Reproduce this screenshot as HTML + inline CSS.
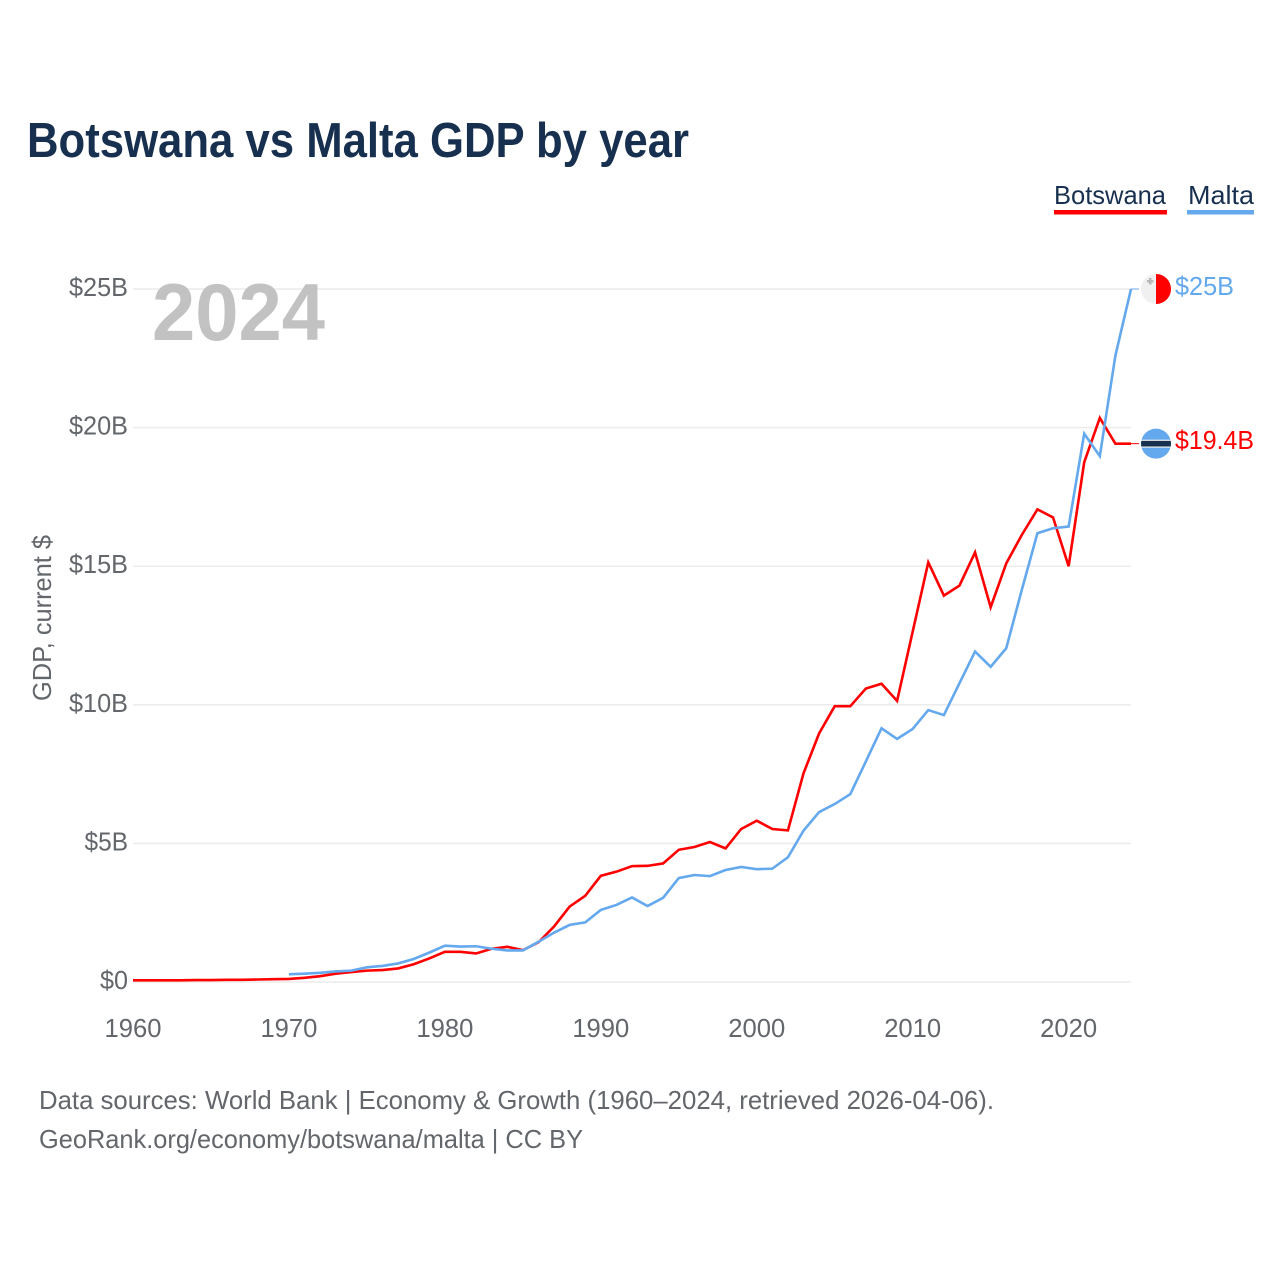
<!DOCTYPE html>
<html lang="en">
<head>
<meta charset="utf-8">
<title>Botswana vs Malta GDP by year</title>
<style>
html,body{margin:0;padding:0;background:#fff;}
svg{display:block;font-family:"Liberation Sans",sans-serif;}
</style>
</head>
<body>
<svg id="chart" width="1280" height="1280" viewBox="0 0 1280 1280" xmlns="http://www.w3.org/2000/svg">
  <rect x="0" y="0" width="1280" height="1280" fill="#ffffff"/>
  <text x="27" y="157" font-size="49" font-weight="700" fill="#18304f" textLength="662" lengthAdjust="spacingAndGlyphs">Botswana vs Malta GDP by year</text>

  <g>
    <g>
      <text x="1054" y="204" font-size="26" fill="#18304f" textLength="112" lengthAdjust="spacingAndGlyphs">Botswana</text>
      <rect x="1054" y="210" width="113" height="4.5" fill="#ff0000"/>
    </g>
    <g>
      <text x="1188" y="204" font-size="26" fill="#18304f" textLength="66" lengthAdjust="spacingAndGlyphs">Malta</text>
      <rect x="1187" y="210" width="67" height="4.5" fill="#64a8ee"/>
    </g>
  </g>

  <g id="grid"></g>
  <g id="yaxis"></g>
  <g id="xaxis"></g>

  <text transform="translate(51,701) rotate(-90)" font-size="26" fill="#63666b" textLength="166" lengthAdjust="spacingAndGlyphs">GDP, current $</text>

  <text x="152" y="340" font-size="81" font-weight="700" fill="#c2c2c2" textLength="173" lengthAdjust="spacingAndGlyphs">2024</text>

  <g id="series"></g>
  <g id="endmarks"></g>

  <g>
    <text x="39" y="1109" font-size="26" fill="#63666b" textLength="955" lengthAdjust="spacingAndGlyphs">Data sources: World Bank | Economy &amp; Growth (1960–2024, retrieved 2026-04-06).</text>
    <text x="39" y="1148" font-size="26" fill="#63666b" textLength="544" lengthAdjust="spacingAndGlyphs">GeoRank.org/economy/botswana/malta | CC BY</text>
  </g>
</svg>
<script>
const years = [1960,1961,1962,1963,1964,1965,1966,1967,1968,1969,1970,1971,1972,1973,1974,1975,1976,1977,1978,1979,1980,1981,1982,1983,1984,1985,1986,1987,1988,1989,1990,1991,1992,1993,1994,1995,1996,1997,1998,1999,2000,2001,2002,2003,2004,2005,2006,2007,2008,2009,2010,2011,2012,2013,2014,2015,2016,2017,2018,2019,2020,2021,2022,2023,2024];
const botswana = [0.06,0.06,0.06,0.06,0.07,0.07,0.08,0.08,0.09,0.10,0.11,0.15,0.21,0.30,0.36,0.41,0.43,0.49,0.64,0.85,1.09,1.09,1.03,1.20,1.27,1.15,1.43,2.00,2.72,3.11,3.83,3.98,4.18,4.19,4.28,4.77,4.87,5.05,4.82,5.52,5.82,5.52,5.47,7.53,8.97,9.95,9.95,10.59,10.76,10.14,12.64,15.14,13.94,14.30,15.50,13.52,15.10,16.13,17.05,16.76,15.00,18.75,20.35,19.42,19.42];
const malta = [null,null,null,null,null,null,null,null,null,null,0.28,0.30,0.33,0.38,0.41,0.53,0.58,0.67,0.83,1.06,1.31,1.28,1.29,1.20,1.14,1.14,1.45,1.78,2.06,2.15,2.60,2.78,3.05,2.74,3.04,3.75,3.86,3.82,4.04,4.15,4.07,4.09,4.50,5.46,6.13,6.42,6.78,7.96,9.15,8.77,9.13,9.81,9.63,10.78,11.92,11.37,12.04,14.15,16.19,16.37,16.43,19.78,18.97,22.60,25.00];
const yTicks = [0,5,10,15,20,25];
const yTickLabels = ["$0","$5B","$10B","$15B","$20B","$25B"];
const xTicks = [1960,1970,1980,1990,2000,2010,2020];
const endLabels = ["$19.4B","$25B"];

const NS = "http://www.w3.org/2000/svg";
const xOf = function (year) { return 133 + (year - 1960) * (1131 - 133) / (2024 - 1960); };
const yOf = function (v) { return 982 - v * (982 - 289) / 25; };

function make(tag, parent, attrs, text) {
  const el = document.createElementNS(NS, tag);
  for (const k in attrs) el.setAttribute(k, attrs[k]);
  if (text !== undefined) el.textContent = text;
  parent.appendChild(el);
  return el;
}

const gridG = document.getElementById("grid");
const yG = document.getElementById("yaxis");
yTicks.forEach(function (t, i) {
  const line = make("line", gridG, {x1: 133, x2: 1131, y1: yOf(t), y2: yOf(t), stroke: "#ebebeb", "stroke-width": 1.5});
  
  
  const label = make("text", yG, {x: 128, y: yOf(t) + 7, "text-anchor": "end", "font-size": 26, fill: "#63666b", textLength: yTickLabels[i].length * 15.5 - 3, lengthAdjust: "spacingAndGlyphs"}, yTickLabels[i]);
  
  
});

const xG = document.getElementById("xaxis");
xTicks.forEach(function (t) {
  const label = make("text", xG, {x: xOf(t), y: 1037, "text-anchor": "middle", "font-size": 26, fill: "#63666b", textLength: 57, lengthAdjust: "spacingAndGlyphs"}, String(t));
  
  
});

function linePath(values) {
  let d = "";
  values.forEach(function (v, i) {
    if (v === null) return;
    d += (d === "" ? "M" : "L") + xOf(years[i]).toFixed(2) + " " + yOf(v).toFixed(2);
  });
  return d;
}

const seriesG = document.getElementById("series");
const lineB = make("path", seriesG, {d: linePath(botswana), fill: "none", stroke: "#ff0000", "stroke-width": 2.6, "stroke-linejoin": "miter"});


const lineM = make("path", seriesG, {d: linePath(malta), fill: "none", stroke: "#64a8ee", "stroke-width": 2.6, "stroke-linejoin": "miter"});



const endG = document.getElementById("endmarks");
const xEnd = xOf(years[years.length - 1]);
const yB = yOf(botswana[botswana.length - 1]);
const yM = yOf(malta[malta.length - 1]);

const connB = make("line", endG, {x1: xEnd, x2: xEnd + 8, y1: yB, y2: yB, stroke: "#ff0000", "stroke-width": 1});


const connM = make("line", endG, {x1: xEnd, x2: xEnd + 8, y1: yM, y2: yM, stroke: "#64a8ee", "stroke-width": 1});



const cx = 1156;

const flagM = make("g", endG, {});


make("circle", flagM, {cx: cx, cy: yM, r: 15, fill: "#f0f0f0"});
make("path", flagM, {d: "M" + cx + " " + (yM - 15) + "A15 15 0 0 1 " + cx + " " + (yM + 15) + "Z", fill: "#ff0000"});
make("path", flagM, {d: "M" + (cx - 7) + " " + (yM - 11) + "h2.5v2h2v2.5h-2v2h-2.5v-2h-2v-2.5h2z", fill: "#b8b8b8"});

const flagB = make("g", endG, {});


const flagBY = yB;
const clip = make("clipPath", flagB, {id: "clipB"});
make("circle", clip, {cx: cx, cy: flagBY, r: 15});
make("circle", flagB, {cx: cx, cy: flagBY, r: 15, fill: "#64a8ee"});
make("rect", flagB, {x: cx - 15, y: flagBY - 4, width: 30, height: 8, fill: "#f0f0f0", "clip-path": "url(#clipB)"});
make("rect", flagB, {x: cx - 15, y: flagBY - 2.8, width: 30, height: 5.6, fill: "#18304f", "clip-path": "url(#clipB)"});

const valB = make("text", endG, {x: 1175, y: 449, "font-size": 26, fill: "#ff0000", textLength: 79, lengthAdjust: "spacingAndGlyphs"}, endLabels[0]);


const valM = make("text", endG, {x: 1175, y: 295, "font-size": 26, fill: "#64a8ee", textLength: 59, lengthAdjust: "spacingAndGlyphs"}, endLabels[1]);


</script>
</body>
</html>
